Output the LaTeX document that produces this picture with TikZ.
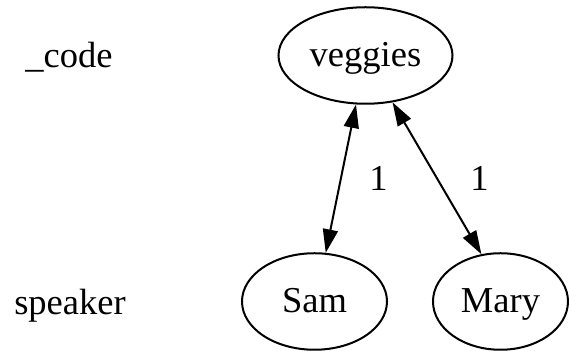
\documentclass[tikz,border=0pt]{standalone}
\usepackage{fontspec}
\setmainfont{Liberation Serif}
\usetikzlibrary{arrows.meta, shapes.geometric, positioning}

\tikzset{
    person/.style={draw, ellipse, line width=0.8pt, inner sep=0pt,
        minimum height=38.6pt, text height=1em, text depth=0.13em},
    rank/.style={anchor=base, inner sep=0pt},
    link/.style={{Triangle[length=9.4pt,width=6pt]}-{Triangle[length=9.4pt,width=6pt]}, line width=0.8pt},
    lbl/.style={inner sep=0pt}
}

\begin{document}
\begin{tikzpicture}[x=0.4pt, y=-0.4pt, font=\fontsize{14.6pt}{17pt}\selectfont]
    \useasboundingbox (0, 0) rectangle (569, 351);

    % rank labels
    \node[rank] (code) at (69, 68) {\_code};
    \node[rank] (spk) at (70, 315) {speaker};

    % nodes
    \node[person, minimum width=69.6pt] (veggies) at (365.5, 55.5) {veggies};
    \node[person, minimum width=58pt] (sam) at (314.5, 301.5) {Sam};
    \node[person, minimum width=54pt] (mary) at (500.5, 301.5) {Mary};

    % edges
    \draw[link] (veggies.-101.5) -- node[lbl, midway, right=11pt] {1} (sam.77.3);
    \draw[link] (veggies.-60.3) -- node[lbl, midway, right=13pt] {1} (mary.112.6);
\end{tikzpicture}
\end{document}
